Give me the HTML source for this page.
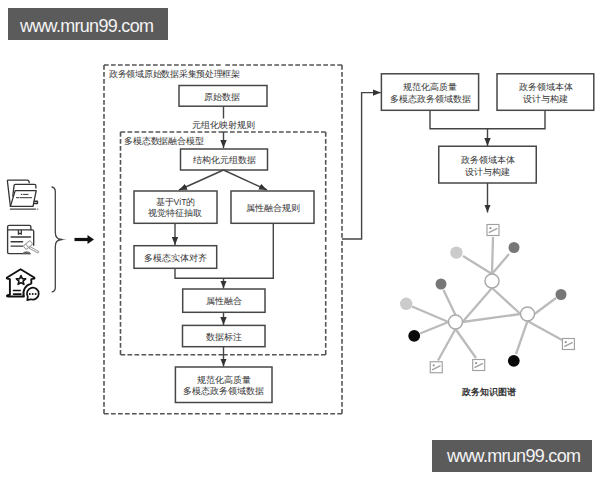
<!DOCTYPE html>
<html><head><meta charset="utf-8">
<style>
html,body{margin:0;padding:0;background:#fff;}
body{width:600px;height:480px;overflow:hidden;position:relative;font-family:"Liberation Sans",sans-serif;}
svg{position:absolute;left:0;top:0;}
.wm{position:absolute;background:#5b5b5b;width:160px;height:32px;}
.wm span{position:absolute;color:#f4f4f4;font-size:18px;line-height:18px;letter-spacing:-0.7px;white-space:nowrap;}
</style></head><body>
<svg width="600" height="480" viewBox="0 0 600 480">
<defs>
<marker id="ah" markerWidth="8" markerHeight="7" refX="8" refY="3.5" orient="auto" markerUnits="userSpaceOnUse">
<path d="M0,0.3 L8,3.5 L0,6.7 z" fill="#333"/>
</marker>
</defs>
<g font-family="Liberation Sans, sans-serif" font-size="8.7" fill="#333" text-anchor="middle">
<!-- outer dashed -->
<path d="M104.0,65.0 L223.0,65.0 M342.0,65.0 L223.0,65.0 M342.0,65.0 L342.0,239.3 M342.0,413.7 L342.0,239.3 M342.0,413.7 L223.0,413.7 M104.0,413.7 L223.0,413.7 M104.0,413.7 L104.0,239.3 M104.0,65.0 L104.0,239.3" fill="none" stroke="#555" stroke-width="1.6" stroke-dasharray="4.7 2.3"/>
<text x="109" y="76.6" text-anchor="start" style="letter-spacing:-0.27px">政务领域原始数据采集预处理框架</text>
<!-- inner dashed -->
<path d="M120.5,132.0 L223.1,132.0 M325.7,132.0 L223.1,132.0 M325.7,132.0 L325.7,243.4 M325.7,354.8 L325.7,243.4 M325.7,354.8 L223.1,354.8 M120.5,354.8 L223.1,354.8 M120.5,354.8 L120.5,243.4 M120.5,132.0 L120.5,243.4" fill="none" stroke="#555" stroke-width="1.6" stroke-dasharray="4.7 2.3"/>
<text x="124.3" y="143.5" text-anchor="start" style="letter-spacing:-0.2px">多模态数据融合模型</text>

<g fill="none" stroke="#474747" stroke-width="1.5">
<rect x="179" y="85.5" width="88" height="20.7"/>
<rect x="180.5" y="149" width="87" height="21"/>
<rect x="134" y="191" width="83" height="32.3"/>
<rect x="231" y="191" width="83" height="32.3"/>
<rect x="134" y="245.7" width="82.7" height="22.6"/>
<rect x="182.7" y="289" width="82.3" height="23.3"/>
<rect x="182.5" y="325.4" width="82.5" height="21.3"/>
<rect x="175.4" y="367" width="96.6" height="35.5"/>
<rect x="381.4" y="73.8" width="97.2" height="36.5"/>
<rect x="497" y="73.8" width="96.8" height="36.5"/>
<rect x="438.75" y="146.25" width="97.5" height="36.75"/>
</g>

<g fill="none" stroke="#444" stroke-width="1.4">
<path d="M223.5,106 V118.5"/>
<path d="M223.5,132 V148" marker-end="url(#ah)"/>
<path d="M223.5,170 L179,190" marker-end="url(#ah)"/>
<path d="M223.5,170 L267,190" marker-end="url(#ah)"/>
<path d="M175,223.3 V245" marker-end="url(#ah)"/>
<path d="M175,268.3 V278.3 H273.3 V223.3"/>
<path d="M223.5,278.3 V288.5" marker-end="url(#ah)"/>
<path d="M223.5,312.3 V325" marker-end="url(#ah)"/>
<path d="M223.5,346.7 V366.5" marker-end="url(#ah)"/>
<path d="M342,239 H361.6 V92.6 H380.8" marker-end="url(#ah)"/>
<path d="M430,110.3 V128.75 H545 V110.3"/>
<path d="M487.5,128.75 V146" marker-end="url(#ah)"/>
<path d="M487.5,183 V212.5" marker-end="url(#ah)"/>
</g>

<text x="222" y="100">原始数据</text>
<text x="223.5" y="128.2">元组化映射规则</text>
<text x="224" y="163">结构化元组数据</text>
<text x="175.5" y="204.7">基于ViT的</text>
<text x="174.8" y="216.3">视觉特征抽取</text>
<text x="272.5" y="210.5">属性融合规则</text>
<text x="175.5" y="261.2">多模态实体对齐</text>
<text x="223.8" y="304">属性融合</text>
<text x="224.3" y="340">数据标注</text>
<text x="224" y="383">规范化高质量</text>
<text x="223.5" y="394.3">多模态政务领域数据</text>
<text x="430" y="90.2">规范化高质量</text>
<text x="430" y="102">多模态政务领域数据</text>
<text x="546" y="90.3">政务领域本体</text>
<text x="545" y="102">设计与构建</text>
<text x="487.5" y="163">政务领域本体</text>
<text x="487.5" y="174.5">设计与构建</text>
<text x="489" y="394.6" font-weight="bold">政务知识图谱</text>
</g>

<!-- knowledge graph -->
<g stroke="#bbb" stroke-width="2.3" fill="none" stroke-linecap="butt">
<path d="M492,288 L462.5,322 M492,288 L520.5,314 M462.5,322 L520.5,314"/>
<path d="M492,274 L493,237 M492,274 L463,256 M492,274 L509,254"/>
<path d="M455.5,315 L443.5,290 M448.5,322 L412,306.5 M448.5,322 L420,333.5 M455.5,329 L438,360.5 M455.5,329 L476,358"/>
<path d="M534.5,314 L556,298 M527.5,321 L562,340 M527.5,321 L516,354"/>
</g>
<g stroke="#aaa" stroke-width="1.5" fill="#fff">
<circle cx="492" cy="281" r="7"/>
<circle cx="455.5" cy="322" r="7"/>
<circle cx="527.5" cy="314" r="7"/>
</g>
<circle cx="456.4" cy="252.6" r="6.2" fill="#cbcbcb"/>
<circle cx="406.2" cy="303.8" r="6.2" fill="#cbcbcb"/>
<circle cx="514" cy="247.5" r="5.5" fill="#777"/>
<circle cx="441" cy="284" r="5.5" fill="#777"/>
<circle cx="561" cy="294.5" r="5.5" fill="#777"/>
<circle cx="414.2" cy="335.8" r="5.9" fill="#0a0a0a"/>
<circle cx="513.8" cy="360.8" r="5.9" fill="#0a0a0a"/>
<g id="img" fill="#fff" stroke="#a0a0a0" stroke-width="1.15">
<g transform="translate(493,230)"><rect x="-6" y="-5.5" width="12" height="11"/><path d="M-4.2,2.6 L4.3,-1.6" fill="none" stroke-width="1.3"/><circle cx="-2.6" cy="-1.8" r="1.1" fill="#999" stroke="none"/></g>
<g transform="translate(568.4,344)"><rect x="-6" y="-5.5" width="12" height="11"/><path d="M-4.2,2.6 L4.3,-1.6" fill="none" stroke-width="1.3"/><circle cx="-2.6" cy="-1.8" r="1.1" fill="#999" stroke="none"/></g>
<g transform="translate(436.25,367.25)"><rect x="-6" y="-5.5" width="12" height="11"/><path d="M-4.2,2.6 L4.3,-1.6" fill="none" stroke-width="1.3"/><circle cx="-2.6" cy="-1.8" r="1.1" fill="#999" stroke="none"/></g>
<g transform="translate(478.7,365)"><rect x="-6" y="-5.5" width="12" height="11"/><path d="M-4.2,2.6 L4.3,-1.6" fill="none" stroke-width="1.3"/><circle cx="-2.6" cy="-1.8" r="1.1" fill="#999" stroke="none"/></g>
</g>

<!-- brace + arrow -->
<path d="M52,187 Q55.3,187.8 55.3,191.5 V232.5 Q55.3,239.5 62,239.5 M62,239.5 Q55.3,239.5 55.3,246.5 V287.5 Q55.3,291.2 52.2,291.9" fill="none" stroke="#444" stroke-width="1.3" stroke-linecap="round"/>
<path d="M59,238.7 L66.5,239.5 L59,240.3 Z" fill="#444"/>
<path d="M74.5,239.5 H89" stroke="#111" stroke-width="3.2"/>
<path d="M87.5,235 L94,239.5 L87.5,244 Z" fill="#111"/>

<!-- left icons -->
<g fill="none" stroke="#333" stroke-width="1.3" stroke-linejoin="round" stroke-linecap="round">
<!-- folder -->
<path d="M10.4,206.4 L7.4,181 Q7.3,180.1 8.4,180.1 H27.5 Q29,180.1 29.2,182.8"/>
<path d="M12.8,196 L14.1,185.3 Q14.2,184.3 15.3,184.3 H34.5 Q35.9,184.3 35.9,186 V188"/>
<path d="M10.4,206.4 L15.2,190.6 H36.2 L33,206.4 Z"/>
<path d="M21.2,194.4 H22 M23.5,194.4 H28 M16.4,197.7 H18.6 M19.8,197.7 H31.7" stroke-width="1"/>
<path d="M34.3,201.2 H37.4 V203.4 H33.9" stroke-width="1.5"/>
<path d="M10.4,209.1 H35.6" stroke-width="1.4" stroke="#444"/>
<path d="M37.5,209.1 H37.9" stroke-width="1.2" stroke="#666"/>
</g>
<g fill="none" stroke="#383838" stroke-width="1.35" stroke-linejoin="round" stroke-linecap="round">
<!-- book + gavel -->
<path d="M30.1,253.6 H9 Q7.6,253.6 7.6,252.2 V226.9 Q7.6,225.4 9.1,225.4 H29.4 Q30.9,225.4 30.9,226.9 V229.9"/>
<path d="M7.6,229.9 H32.2 Q33.7,229.9 33.7,231.4 V245.3"/>
<path d="M18.4,230.3 V234.2 L19.8,233.2 L21.3,234.2 V230.3"/>
<path d="M11.1,237 H30.5 M11.1,241.8 H22.6 M11.1,246.1 H22.6" stroke-width="1.45"/>
<path d="M22.8,253.3 Q23.5,251.8 26.6,251.8 Q29.7,251.8 30.4,253.3 Z" fill="#666" stroke="#666" stroke-width="0.8"/>
</g>
<g fill="#fff" stroke="#9a9a9a" stroke-width="1" stroke-linejoin="round">
<path d="M29.8,246.5 L38.9,251.6 L38,253.1 L28.9,248 Z"/>
<g transform="translate(28,245) rotate(-40)"><rect x="-4.3" y="-2.3" width="8.6" height="4.6" rx="1"/><path d="M-1.2,-2.3 V2.3" fill="none"/></g>
</g>
<g fill="none" stroke="#111" stroke-width="1.9" stroke-linejoin="round" stroke-linecap="round">
<!-- house -->
<path d="M23.9,296.5 H8 Q6.8,296.5 7,295.6 Q7.3,294.8 9.9,294.6 V279.1 L7.2,278.6 Q6.4,278.2 7.1,277.5 L20.6,269.2 L34.2,277.5 Q34.9,278.2 34.1,278.6 L31.3,279.1 V283.6 A10,10 0 0 0 23.9,296.5"/>
<path d="M21.00,275.60 L22.29,278.62 L25.66,278.89 L23.09,281.08 L23.88,284.36 L21.00,282.60 L18.12,284.36 L18.91,281.08 L16.34,278.89 L19.71,278.62 Z" stroke-width="1.6"/>
<path d="M13.5,290.5 H20.2 M13.5,294.1 H21" stroke-width="1.6"/>
<path d="M27.8,296.7 L27.3,300.1 L30.9,299.2 A5.9,5.9 0 1 0 27.8,296.7 Z" stroke-width="1.7"/>
</g>
<g fill="#111"><circle cx="29.8" cy="294" r="0.95"/><circle cx="32.7" cy="294" r="0.95"/><circle cx="35.6" cy="294" r="0.95"/></g>
</svg>
<div class="wm" style="left:8px;top:8px;"><span style="left:12px;top:9px">www.mrun99.com</span></div>
<div class="wm" style="left:432px;top:440px;"><span style="left:15px;top:7px">www.mrun99.com</span></div>
</body></html>
